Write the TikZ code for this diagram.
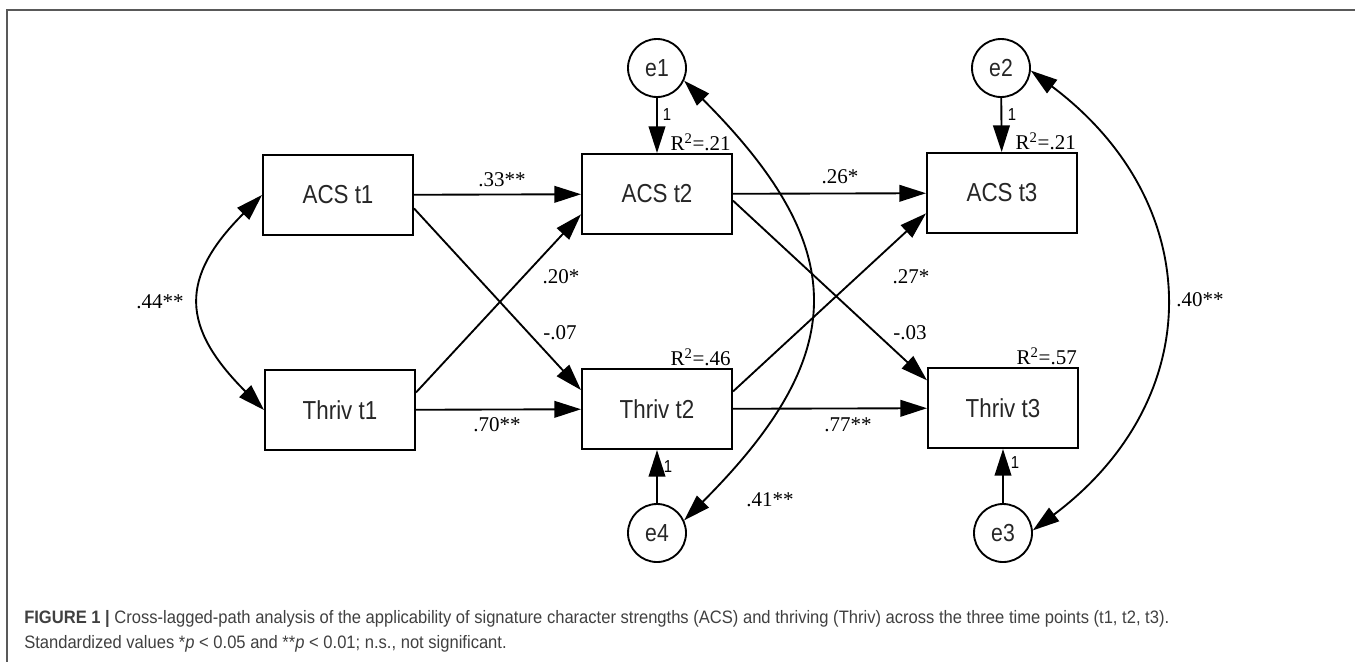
\documentclass[tikz,border=0pt]{standalone}
\usepackage{fontspec}
\setmainfont{Liberation Serif}
\newfontfamily\boxfont[FakeStretch=0.86]{Liberation Sans}
\newfontfamily\capfont[FakeStretch=0.92]{Liberation Sans}
\usetikzlibrary{arrows.meta}
\tikzset{
  var/.style={draw,line width=1.5pt,minimum width=112.5pt,minimum height=60pt,inner sep=0pt,text=black!85,font=\boxfont\fontsize{19.5}{20}\selectfont},
  err/.style={draw,circle,line width=1.4pt,minimum size=43.5pt,inner sep=0pt,text=black!85,font=\boxfont\fontsize{18.5}{19}\selectfont},
  reg/.style={line width=1.4pt,-{Triangle[length=20pt,width=12.5pt]}},
  cov/.style={line width=1.4pt,{Triangle[length=20pt,width=12.5pt]}-{Triangle[length=20pt,width=12.5pt]}},
  coef/.style={font=\fontsize{15.75}{16}\selectfont},
  one/.style={inner sep=1pt,font=\boxfont\fontsize{13}{13}\selectfont},
  rsq/.style={anchor=south east,inner sep=1.5pt,font=\fontsize{15.75}{16}\selectfont},
  capline/.style={anchor=base west,inner sep=0pt,text=black!75,font=\capfont\fontsize{13.5}{16}\selectfont}
}
\begin{document}
\begin{tikzpicture}[x=0.75pt,y=-0.75pt]
    \useasboundingbox (0,0) rectangle (1355,662);
    \draw[black!65,line width=1.1pt] (1355,10) -- (7,10) -- (7,662);

    \node[var] (acs1) at (338,195) {ACS t1};
    \node[var] (thriv1) at (340,410) {Thriv t1};
    \node[var] (acs2) at (657,194) {ACS t2};
    \node[var] (thriv2) at (657,409) {Thriv t2};
    \node[var] (acs3) at (1002,193) {ACS t3};
    \node[var] (thriv3) at (1003,408) {Thriv t3};
    \node[err] (e1) at (657,68) {e1};
    \node[err] (e2) at (1001,68) {e2};
    \node[err] (e4) at (657,533) {e4};
    \node[err] (e3) at (1003,533) {e3};

    \draw[reg] (acs1) -- (acs2);
    \draw[reg] (thriv1) -- (thriv2);
    \draw[reg] (acs2) -- (acs3);
    \draw[reg] (thriv2) -- (thriv3);
    \draw[reg] (acs1.-10) -- (thriv2.166);
    \draw[reg] (thriv1.13) -- (acs2.195);
    \draw[reg] (acs2.-5) -- (thriv3.160);
    \draw[reg] (thriv2.13) -- (acs3.195);
    \draw[reg] (e1) -- (acs2);
    \draw[reg] (e2) -- (acs3);
    \draw[reg] (e4) -- (thriv2);
    \draw[reg] (e3) -- (thriv3);

    \draw[cov] (acs1.west) .. controls +(-83,83) and +(-83,-83) .. (thriv1.west);
    \draw[cov] (e1.-25) .. controls +(167,167) and +(167,-167) .. (e4.25);
    \draw[cov] (e2.-5) .. controls +(176,132) and +(176,-132) .. (e3.5);

    \node[coef] (c33) at (502,180) {.33**};
    \node[coef] (c26) at (840,177) {.26*};
    \node[coef] (c20) at (561,277) {.20*};
    \node[coef] (c07) at (560,333) {-.07};
    \node[coef] (c27) at (911,277) {.27*};
    \node[coef] (c03) at (910,333) {-.03};
    \node[coef] (c70) at (497,425) {.70**};
    \node[coef] (c77) at (848,425) {.77**};
    \node[coef] (c44) at (160,302) {.44**};
    \node[coef] (c41) at (770,500) {.41**};
    \node[coef] (c40) at (1200,300) {.40**};

    \node[one] (o1) at (667,115) {1};
    \node[one] (o2) at (1012,115) {1};
    \node[one] (o4) at (668,467) {1};
    \node[one] (o3) at (1015,463) {1};

    \node[rsq] (r2) at (acs2.north east) {R\textsuperscript{2}=.21};
    \node[rsq] (r3) at (acs3.north east) {R\textsuperscript{2}=.21};
    \node[rsq] (r5) at (thriv2.north east) {R\textsuperscript{2}=.46};
    \node[rsq] (r6) at (thriv3.north east) {R\textsuperscript{2}=.57};

    \node[capline] (cap1) at (24,623) {\textbf{FIGURE 1 |} Cross-lagged-path analysis of the applicability of signature character strengths (ACS) and thriving (Thriv) across the three time points (t1, t2, t3).};
    \node[capline] (cap2) at (24,648) {Standardized values *\textit{p} < 0.05 and **\textit{p} < 0.01; n.s., not significant.};
\end{tikzpicture}
\end{document}
